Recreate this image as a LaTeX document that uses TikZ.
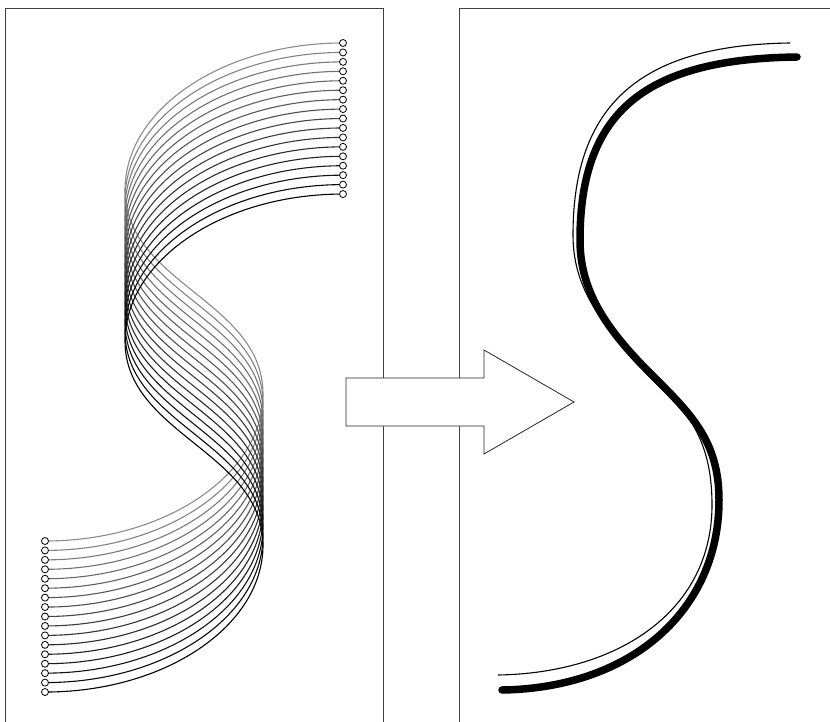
\documentclass[tikz,border=0pt]{standalone}
\usepackage{tikz}

\begin{document}
\begin{tikzpicture}[x=1pt, y=-1pt,
	frame/.style={draw=black!75, line width=1pt},
	pin/.style={draw=black, fill=white, line width=0.8pt},
	strand/.style={line width=1.1pt},
	block/.style={draw=black!85, fill=white, line width=0.8pt, line join=miter}]
	\useasboundingbox (0,0) rectangle (830,722);
	\clip (0,0) rectangle (830,722);
	\fill[white] (0,0) rectangle (830,722);
	
	% ---------- 左图：一组平移的曲线 ----------
	\begin{scope}
		% 边框
		\draw[frame] (5,9) rectangle (383,760);
		
		% 曲线（由浅灰到黑）
		\foreach \i in {0,...,16}{
			\pgfmathsetmacro{\gry}{45+55*\i/16}
			\begin{scope}[shift={(0,9.44*\i)}]
				\draw[strand, draw=black!\gry] (343,43) .. controls (223,43) and (125,109) .. (125,190)
					.. controls (125,283) and (263,301) .. (263,394)
					.. controls (263,475) and (165,541) .. (45,541);
			\end{scope}
		}
		
		% 端点小圆
		\foreach \i in {0,...,16}{
			\draw[pin] (343,43+9.44*\i) circle (3.5);
			\draw[pin] (45,541+9.44*\i) circle (3.5);
		}
	\end{scope}
	
	% ---------- 右图：平均曲线 ----------
	\begin{scope}
		% 边框
		\draw[frame] (459,9) rectangle (880,760);
		
		% 粗线
		\draw[line width=7.5pt, line cap=round] (797,57) .. controls (647,59) and (580,110) .. (580,240)
			.. controls (580,290) and (605,328) .. (650,373)
			.. controls (690,413) and (719,440) .. (719,500)
			.. controls (719,610) and (632,688) .. (502,690);
		
		% 细线
		\draw[line width=1.1pt] (790,43) .. controls (640,45) and (573,105) .. (573,235)
			.. controls (573,290) and (603,326) .. (648,371)
			.. controls (688,411) and (712,440) .. (712,505)
			.. controls (712,610) and (620,673) .. (498,675);
	\end{scope}
	
	% 中间的大箭头
	\draw[block] (346,378) -- (484,378) -- (484,350) -- (574,402) -- (484,454) -- (484,426) -- (346,426) -- cycle;
\end{tikzpicture}
\end{document}
